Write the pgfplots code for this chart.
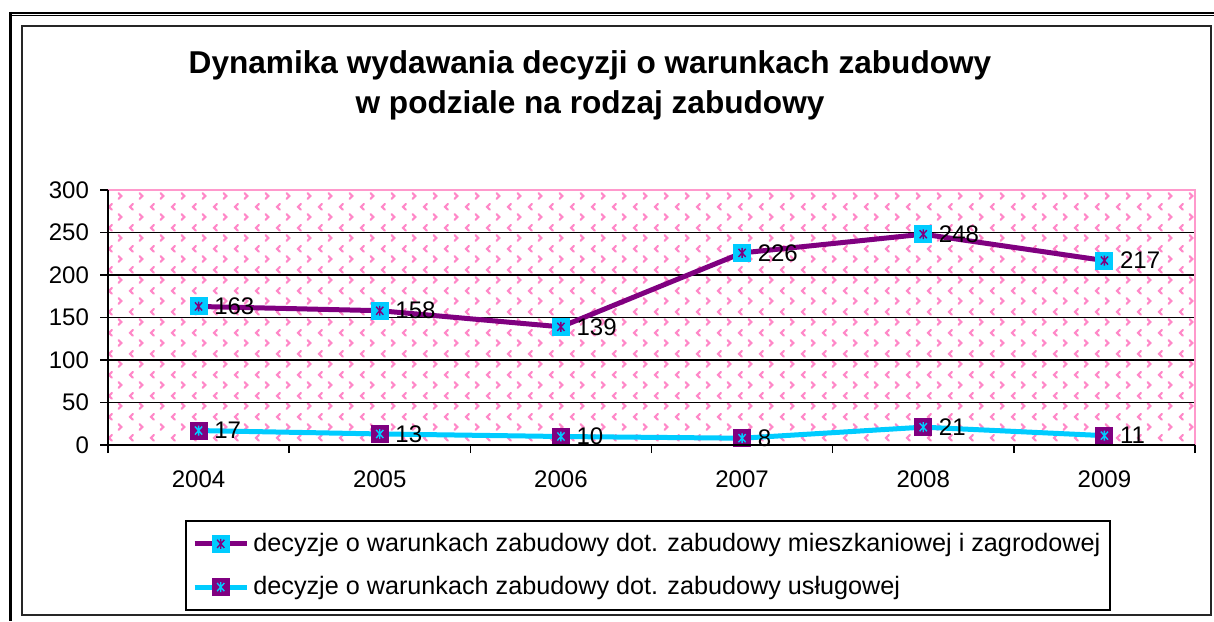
\documentclass[border=0pt]{standalone}
\usepackage{fontspec}
\setmainfont{Liberation Sans}
\usepackage{pgfplots}
\pgfplotsset{compat=1.18}
\usetikzlibrary{patterns}
\definecolor{vio}{HTML}{800080}
\definecolor{cy}{HTML}{00CCFF}
\definecolor{pk}{HTML}{FF99CC}
\definecolor{pkd}{HTML}{FF88C8}

\pgfdeclarepatternformonly{chev}{\pgfpointorigin}{\pgfpoint{10.5pt}{10.5pt}}{\pgfpoint{10.5pt}{10.5pt}}{%
  \pgfsetlinewidth{1.1pt}\pgfsetroundcap%
  \pgfpathmoveto{\pgfpoint{3.6pt}{9.4pt}}\pgfpathlineto{\pgfpoint{2.1pt}{7.9pt}}\pgfpathlineto{\pgfpoint{3.6pt}{6.4pt}}%
  \pgfpathmoveto{\pgfpoint{7.1pt}{4.1pt}}\pgfpathlineto{\pgfpoint{8.6pt}{2.6pt}}\pgfpathlineto{\pgfpoint{7.1pt}{1.1pt}}%
  \pgfusepath{stroke}}

\pgfdeclareplotmark{sqA}{%
  \pgfpathrectangle{\pgfpoint{-\pgfplotmarksize}{-\pgfplotmarksize}}{\pgfpoint{2\pgfplotmarksize}{2\pgfplotmarksize}}%
  \pgfsetfillcolor{cy}\pgfusepath{fill}%
  \pgfsetstrokecolor{vio}\pgfsetlinewidth{0.7pt}\pgfsetbuttcap%
  \pgfpathmoveto{\pgfpoint{-0.4\pgfplotmarksize}{-0.45\pgfplotmarksize}}\pgfpathlineto{\pgfpoint{0.4\pgfplotmarksize}{0.45\pgfplotmarksize}}%
  \pgfpathmoveto{\pgfpoint{-0.4\pgfplotmarksize}{0.45\pgfplotmarksize}}\pgfpathlineto{\pgfpoint{0.4\pgfplotmarksize}{-0.45\pgfplotmarksize}}%
  \pgfpathmoveto{\pgfpoint{0pt}{-0.55\pgfplotmarksize}}\pgfpathlineto{\pgfpoint{0pt}{0.55\pgfplotmarksize}}%
  \pgfusepath{stroke}}
\pgfdeclareplotmark{sqB}{%
  \pgfpathrectangle{\pgfpoint{-\pgfplotmarksize}{-\pgfplotmarksize}}{\pgfpoint{2\pgfplotmarksize}{2\pgfplotmarksize}}%
  \pgfsetfillcolor{vio}\pgfusepath{fill}%
  \pgfsetstrokecolor{cy}\pgfsetlinewidth{0.7pt}\pgfsetbuttcap%
  \pgfpathmoveto{\pgfpoint{-0.4\pgfplotmarksize}{-0.45\pgfplotmarksize}}\pgfpathlineto{\pgfpoint{0.4\pgfplotmarksize}{0.45\pgfplotmarksize}}%
  \pgfpathmoveto{\pgfpoint{-0.4\pgfplotmarksize}{0.45\pgfplotmarksize}}\pgfpathlineto{\pgfpoint{0.4\pgfplotmarksize}{-0.45\pgfplotmarksize}}%
  \pgfpathmoveto{\pgfpoint{0pt}{-0.55\pgfplotmarksize}}\pgfpathlineto{\pgfpoint{0pt}{0.55\pgfplotmarksize}}%
  \pgfusepath{stroke}}

\begin{document}
\begin{tikzpicture}
\path[use as bounding box] (0,0) rectangle (607pt,310.5pt);
% outer frame
\draw[black,line width=0.85pt] (4.5pt,304.1pt) -- (607pt,304.1pt);
\draw[black,line width=0.65pt] (4.5pt,302.8pt) -- (607pt,302.8pt);
\draw[black,line width=1.65pt] (5.3pt,304.5pt) -- (5.3pt,0pt);
% inner frame
\draw[black!85,line width=1pt] (11.1pt,3pt) rectangle (605.5pt,297.6pt);
% title
\node[align=center,font=\fontsize{15.8}{20}\selectfont\bfseries] at (295pt,268pt)
  {Dynamika wydawania decyzji o warunkach zabudowy\\w podziale na rodzaj zabudowy};
\begin{axis}[
  at={(54pt,88pt)}, anchor=south west,
  scale only axis, width=543.5pt, height=127.5pt,
  xmin=-0.5, xmax=5.5, ymin=0, ymax=300,
  xtick={0,...,5}, xticklabels={2004,2005,2006,2007,2008,2009},
  minor xtick={-0.5,0.5,1.5,2.5,3.5,4.5,5.5},
  ytick={0,50,...,300},
  xtick pos=bottom, ytick pos=left,
  tick align=outside,
  major x tick style={draw=none},
  major tick length=4pt, minor tick length=4pt,
  tick style={black,line width=0.8pt},
  ymajorgrids, grid style={black,line width=0.8pt},
  axis line style={draw=none},
  axis background/.style={fill=white, postaction={pattern=chev, pattern color=pkd}},
  /pgf/number format/assume math mode=true,
  tick label style={font=\fontsize{12}{14}\selectfont},
  xticklabel style={yshift=-5.5pt},
  yticklabel style={xshift=-2pt},
  nodes near coords,
  nodes near coords style={anchor=west, xshift=7.5pt, inner sep=0pt, text=black, font=\fontsize{12}{14}\selectfont},
  legend style={at={(0.497,-0.295)}, anchor=north, draw=black, line width=1pt,
    font=\fontsize{12.6}{15}\selectfont, row sep=7pt, inner xsep=3pt, inner ysep=4pt,
    /tikz/every even column/.append style={column sep=1pt}},
  legend cell align=left,
  legend image code/.code={\draw[mark repeat=2,mark phase=2] plot coordinates {(0cm,0cm) (0.46cm,0cm) (0.92cm,0cm)};},
  after end axis/.code={
    \draw[pk,line width=1pt] (rel axis cs:0,1) -- (rel axis cs:1,1) -- (rel axis cs:1,0);
    \draw[black,line width=0.8pt] (rel axis cs:0,1) -- (rel axis cs:0,0) -- (rel axis cs:1,0);
  },
]
\addplot[vio, line width=2.5pt, line join=round, mark=sqA, mark size=4.5pt] coordinates {
  (0,163) (1,158) (2,139) (3,226) (4,248) (5,217)};
\addlegendentry{decyzje o warunkach zabudowy dot. zabudowy mieszkaniowej i zagrodowej}
\addplot[cy, line width=2.5pt, line join=round, mark=sqB, mark size=4.5pt] coordinates {
  (0,17) (1,13) (2,10) (3,8) (4,21) (5,11)};
\addlegendentry{decyzje o warunkach zabudowy dot. zabudowy usługowej}
\end{axis}
\end{tikzpicture}
\end{document}
